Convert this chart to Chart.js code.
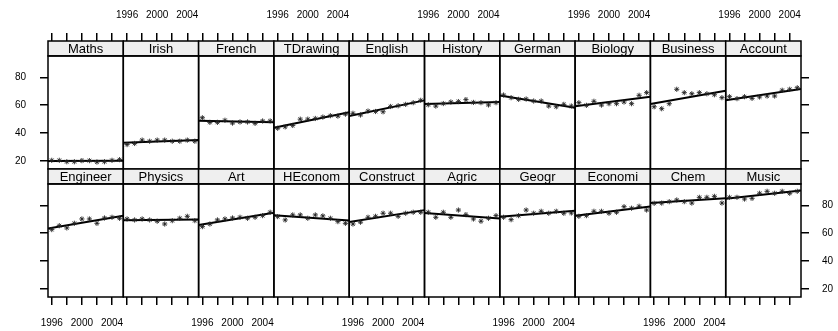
<!DOCTYPE html>
<html>
<head>
<meta charset="utf-8">
<script src="https://cdn.jsdelivr.net/npm/chart.js@4.4.1/dist/chart.umd.min.js"></script>
<style>
  html, body { margin: 0; padding: 0; background: #fff; }
</style>
</head>
<body>
<canvas id="gradesChart" width="838" height="331"></canvas>
<script>
// exam years and panel order
const years = [1996, 1997, 1998, 1999, 2000, 2001, 2002, 2003, 2004, 2005];
const topSubjects = ['Maths', 'Irish', 'French', 'TDrawing', 'English', 'History', 'German', 'Biology', 'Business', 'Account'];
const bottomSubjects = ['Engineer', 'Physics', 'Art', 'HEconom', 'Construct', 'Agric', 'Geogr', 'Economi', 'Chem', 'Music'];

// top row
const maths    = [20.5, 20.5, 19.5, 19.5, 20.3, 20.3, 19.3, 19.5, 20.5, 21.0];
const irish    = [31.8, 32.6, 35.0, 34.2, 35.0, 35.0, 34.2, 34.2, 35.0, 34.2];
const french   = [51.0, 47.7, 47.7, 49.2, 47.2, 48.0, 48.0, 47.0, 48.7, 48.7];
const tdrawing = [43.5, 44.5, 45.5, 50.0, 50.0, 50.5, 51.5, 52.5, 52.2, 53.6];
const english  = [54.2, 53.0, 55.8, 55.5, 55.3, 59.1, 59.6, 60.6, 61.8, 63.5];
const history  = [60.3, 59.4, 61.2, 62.3, 62.6, 64.0, 62.0, 61.8, 60.2, 61.8];
const german   = [67.3, 65.4, 64.2, 64.4, 63.0, 63.0, 59.4, 58.9, 60.6, 59.4];
const biology  = [61.8, 59.9, 62.8, 60.1, 61.1, 61.1, 62.3, 61.1, 67.1, 69.0];
const business = [58.9, 57.5, 61.1, 71.4, 69.0, 68.2, 69.0, 68.2, 67.5, 65.4];
const account  = [66.1, 64.7, 66.1, 64.9, 65.9, 66.6, 66.6, 70.7, 71.4, 72.5];

// bottom row
const engineer  = [62.6, 65.4, 63.8, 67.1, 70.2, 70.2, 67.1, 70.9, 71.4, 70.7];
const physics   = [70.2, 69.5, 70.2, 69.5, 68.6, 66.6, 69.0, 70.7, 72.1, 69.0];
const art       = [64.7, 66.6, 69.5, 70.2, 70.9, 71.4, 70.7, 71.4, 72.6, 75.0];
const heconom   = [71.9, 69.5, 73.1, 73.1, 70.7, 73.1, 72.4, 70.7, 68.3, 67.1];
const construct = [66.6, 67.9, 71.4, 72.1, 74.3, 74.3, 72.1, 74.3, 75.0, 75.0];
const agric     = [75.0, 71.4, 75.0, 71.4, 76.6, 73.3, 70.2, 68.6, 70.7, 72.6];
const geogr     = [71.4, 69.7, 72.6, 76.6, 74.3, 75.7, 74.3, 75.7, 74.3, 74.5];
const economi   = [72.1, 72.6, 75.7, 75.7, 74.3, 75.0, 79.0, 77.9, 79.3, 76.6];
const chem      = [81.4, 81.6, 82.6, 83.8, 82.6, 81.6, 85.7, 85.7, 86.4, 81.6];
const music     = [85.7, 85.7, 84.5, 85.0, 88.6, 90.0, 88.6, 90.0, 88.6, 90.0];

const topSeries = [maths, irish, french, tdrawing, english, history, german, biology, business, account];
const bottomSeries = [engineer, physics, art, heconom, construct, agric, geogr, economi, chem, music];

const yearTicks = [1996, 1998, 2000, 2002, 2004];
const yearLabels = [1996, 2000, 2004];
const valueTicks = [20, 40, 60, 80];

// axis limits (YTOP = top of a panel, above it sits the strip)
const XMIN = 1995.5, XMAX = 2005.5;
const YMIN = 14.3, YTOP = 95.3, YMAX = 106;

const FONT = '"Liberation Sans", Arial, Helvetica, sans-serif';

// least squares line across the panel
function lmLine(vals) {
  const n = years.length;
  const mx = years.reduce((a, b) => a + b, 0) / n;
  const my = vals.reduce((a, b) => a + b, 0) / n;
  let sxy = 0, sxx = 0;
  years.forEach((x, i) => { sxy += (x - mx) * (vals[i] - my); sxx += (x - mx) * (x - mx); });
  const b = sxy / sxx;
  return [{x: XMIN, y: my + b * (XMIN - mx)}, {x: XMAX, y: my + b * (XMAX - mx)}];
}

const datasets = [];
function addPanel(vals, xId, yId) {
  datasets.push({
    type: 'scatter',
    data: years.map((x, i) => ({x: x, y: vals[i]})),
    xAxisID: xId, yAxisID: yId,
    pointStyle: 'star', pointRadius: 2.6, borderColor: '#222', borderWidth: 0.9,
    backgroundColor: '#222'
  });
  datasets.push({
    type: 'line',
    data: lmLine(vals),
    xAxisID: xId, yAxisID: yId,
    borderColor: '#000', borderWidth: 2, pointRadius: 0, fill: false
  });
}
topSeries.forEach((v, c) => addPanel(v, 't' + c, 'yT'));
bottomSeries.forEach((v, c) => addPanel(v, 'b' + c, 'yB'));

const tickGrid = {drawOnChartArea: false, drawTicks: true, tickLength: 8, color: '#000', lineWidth: 1.5};

function xAxis(position, weight, labelled) {
  return {
    type: 'linear', position: position, weight: weight, stack: position,
    min: XMIN, max: XMAX,
    afterBuildTicks: s => { s.ticks = yearTicks.map(v => ({value: v})); },
    afterFit: s => { s.height = position === 'top' ? 41 : 34; },
    ticks: {
      autoSkip: false, maxRotation: 0, minRotation: 0,
      padding: position === 'top' ? 12 : 12,
      color: '#000', font: {family: FONT, size: 10},
      callback: v => (labelled && yearLabels.includes(v)) ? String(v) : ''
    },
    grid: tickGrid,
    border: {display: false}
  };
}

function yAxis(position, weight, labelled) {
  return {
    type: 'linear', position: position, weight: weight, stack: position,
    min: YMIN, max: YMAX,
    afterBuildTicks: s => { s.ticks = valueTicks.map(v => ({value: v})); },
    afterFit: s => { s.width = position === 'left' ? 48 : 37; },
    ticks: {
      padding: position === 'left' ? 14 : 13,
      color: '#000', font: {family: FONT, size: 10},
      callback: v => labelled ? String(v) : ''
    },
    grid: tickGrid,
    border: {display: false}
  };
}

const scales = {};
for (let c = 0; c < 10; c++) scales['t' + c] = xAxis('top', 10 - c, c % 2 === 1);
for (let c = 0; c < 10; c++) scales['b' + c] = xAxis('bottom', c + 1, c % 2 === 0);
scales.yT = yAxis('left', 2, true);
scales.yB = yAxis('left', 1, false);
scales.rT = yAxis('right', 1, false);
scales.rB = yAxis('right', 2, true);

// strips with subject names and the panel boxes
const panelFrames = {
  id: 'panelFrames',
  afterDatasetsDraw(chart) {
    const ctx = chart.ctx;
    const rows = [
      {names: topSubjects, prefix: 't', y: chart.scales.yT},
      {names: bottomSubjects, prefix: 'b', y: chart.scales.yB}
    ];
    ctx.save();
    rows.forEach(row => {
      const top = row.y.getPixelForValue(YMAX);
      const mid = row.y.getPixelForValue(YTOP);
      const bot = row.y.getPixelForValue(YMIN);
      row.names.forEach((name, c) => {
        const xs = chart.scales[row.prefix + c];
        const l = xs.left, w = xs.right - xs.left;
        ctx.fillStyle = '#efefef';
        ctx.fillRect(l, top, w, mid - top);
        ctx.strokeStyle = '#000';
        ctx.lineWidth = 1.5;
        ctx.strokeRect(l, top, w, mid - top);
        ctx.strokeRect(l, mid, w, bot - mid);
        ctx.fillStyle = '#000';
        ctx.font = '13px ' + FONT;
        ctx.textAlign = 'center';
        ctx.textBaseline = 'middle';
        ctx.fillText(name, l + w / 2, (top + mid) / 2 + 0.5);
      });
    });
    ctx.restore();
  }
};

new Chart(document.getElementById('gradesChart').getContext('2d'), {
  type: 'scatter',
  data: {datasets: datasets},
  options: {
    responsive: false,
    animation: false,
    layout: {padding: 0},
    plugins: {legend: {display: false}, tooltip: {enabled: false}},
    scales: scales
  },
  plugins: [panelFrames]
});
</script>
</body>
</html>
